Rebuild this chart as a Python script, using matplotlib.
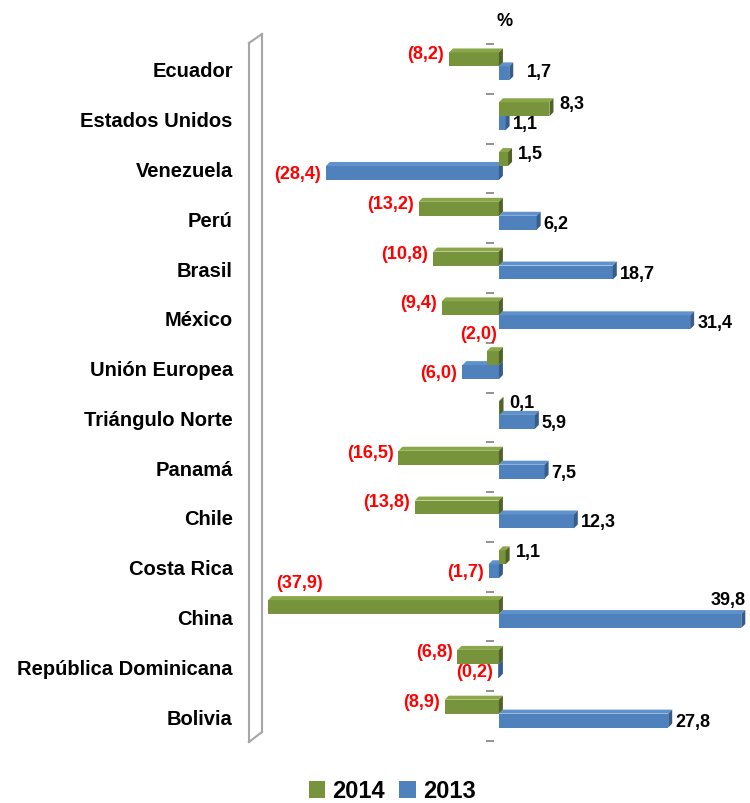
import matplotlib
matplotlib.use("Agg")
import matplotlib.pyplot as plt
from matplotlib.patches import Polygon, Patch
from matplotlib.lines import Line2D

plt.rcParams['font.family'] = ['Liberation Sans', 'DejaVu Sans']

countries = ['Ecuador', 'Estados Unidos', 'Venezuela', 'Perú', 'Brasil', 'México',
             'Unión Europea', 'Triángulo Norte', 'Panamá', 'Chile', 'Costa Rica',
             'China', 'República Dominicana', 'Bolivia']
v2014 = [-8.2, 8.3, 1.5, -13.2, -10.8, -9.4, -2.0, 0.1, -16.5, -13.8, 1.1, -37.9, -6.8, -8.9]
v2013 = [1.7, 1.1, -28.4, 6.2, 18.7, 31.4, -6.0, 5.9, 7.5, 12.3, -1.7, 39.8, -0.2, 27.8]
series = ['2014', '2013']

# front, top, side colours
GREEN = ('#77933C', '#8AA84A', '#4F6228')
BLUE = ('#4F81BD', '#5F92CC', '#385D8A')

W, H = 750, 804
fig = plt.figure(figsize=(W / 100, H / 100), dpi=100)
ax_left, ax_right, ax_top, ax_bot = 262, 748, 45, 742
ax = fig.add_axes([ax_left / W, 1 - ax_bot / H, (ax_right - ax_left) / W, (ax_bot - ax_top) / H])

xmin, xmax = -38.9, 40.9
ax.set_xlim(xmin, xmax)
ax.set_ylim(len(countries) - 0.5, -0.5)
px_x = (ax_right - ax_left) / (xmax - xmin)   # pixels per unit
px_y = (ax_bot - ax_top) / len(countries)
DX, DY = 4 / px_x, 4 / px_y   # 3d depth
BAR_H = 0.28


def bar3d(v, yc, cols, z):
    x0, x1 = min(0, v), max(0, v)
    yt, yb = yc - BAR_H / 2, yc + BAR_H / 2
    ax.add_patch(Polygon([(x0, yb), (x1, yb), (x1, yt), (x0, yt)], closed=True,
                         facecolor=cols[0], edgecolor='none', zorder=z))
    ax.add_patch(Polygon([(x0, yt), (x0 + DX, yt - DY), (x1 + DX, yt - DY), (x1, yt)],
                         closed=True, facecolor=cols[1], edgecolor='none', zorder=z))
    ax.add_patch(Polygon([(x1, yb), (x1 + DX, yb - DY), (x1 + DX, yt - DY), (x1, yt)],
                         closed=True, facecolor=cols[2], edgecolor='none', zorder=z))


def fmt(v):
    s = f"{abs(v):.1f}".replace('.', ',')
    return f"({s})" if v < 0 else s


# special label placements (pixel offsets from bar end, alignment)
special = {(6, '2014'): (10, -34, 'right'),
           (11, '2014'): (8, -34, 'left'),
           (11, '2013'): (4, -17, 'right'),
           (0, '2013'): (18, 3, 'left')}

for i in range(len(countries)):
    for name, vals, cols, shift, z in [('2013', v2013, BLUE, 0.09, 2), ('2014', v2014, GREEN, -0.19, 3)]:
        v = vals[i]
        bar3d(v, i + shift, cols, z)
        if (i, name) in special:
            ox, oy, ha = special[(i, name)]
        elif v < 0:
            ox, oy, ha = -5, (-15 if name == '2014' else 5), 'right'
        else:
            ox, oy, ha = (10 if name == '2014' else 7), (-15 if name == '2014' else 5), 'left'
        ax.annotate(fmt(v), xy=(v, i), xytext=(ox * 0.72, -oy * 0.72), textcoords='offset points',
                    ha=ha, va='center', fontsize=13, fontweight='bold',
                    color='red' if v < 0 else 'black', zorder=5)

# small tick dashes between categories
bounds = [k - 0.5 for k in range(len(countries) + 1)]
ax.plot([-9 / px_x] * len(bounds), bounds, linestyle='none', marker='_',
        markersize=6, mew=1.2, color='#808080', clip_on=False)

ax.set_yticks(range(len(countries)))
ax.set_yticklabels(countries, fontsize=14.5, fontweight='bold')
ax.tick_params(axis='y', length=0, pad=21)
ax.set_xticks([])
for s in ax.spines.values():
    s.set_visible(False)

# left wall
def fp(x, y):
    return x / W, 1 - y / H

wall = [((249, 44), (249, 743)), ((262, 35), (262, 733)),
        ((249, 44), (262, 35)), ((249, 743), (262, 733))]
for a, b in wall:
    (x0, y0), (x1, y1) = fp(*a), fp(*b)
    fig.add_artist(Line2D([x0, x1], [y0, y1], color='#A6A6A6', lw=1.5))

fig.text(505 / W, 1 - 21 / H, '%', ha='center', va='center', fontsize=13, fontweight='bold')

handles = [Patch(facecolor=GREEN[0], label=series[0]), Patch(facecolor=BLUE[0], label=series[1])]
fig.legend(handles=handles, loc='center', bbox_to_anchor=(392 / W, 1 - 792 / H), ncol=2,
           frameon=False, prop={'weight': 'bold', 'size': 17}, handlelength=0.7,
           handleheight=0.7, handletextpad=0.3, columnspacing=0.6)

fig.savefig('out.png', dpi=100)
